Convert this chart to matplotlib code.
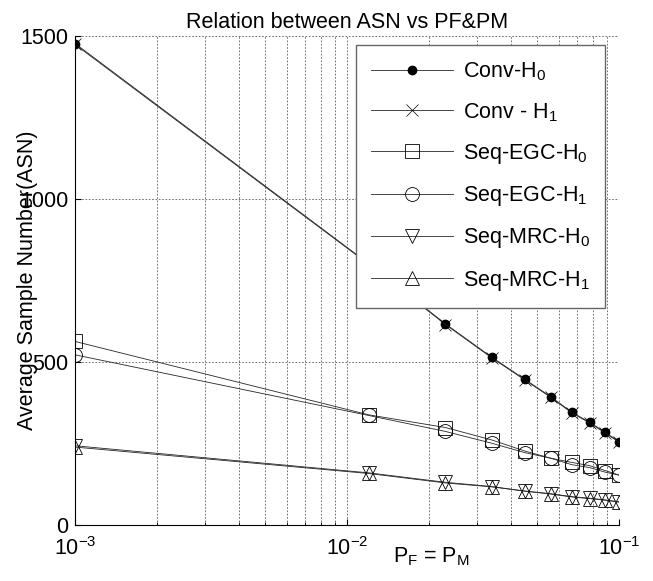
import matplotlib
matplotlib.use('Agg')
import matplotlib.pyplot as plt
from matplotlib.ticker import NullFormatter

plt.rcParams['font.family'] = ['Liberation Sans', 'DejaVu Sans']
plt.rcParams['mathtext.fontset'] = 'custom'
plt.rcParams['mathtext.rm'] = 'Liberation Sans'
plt.rcParams['mathtext.it'] = 'Liberation Sans'
plt.rcParams['mathtext.default'] = 'regular'

# P_F = P_M values
pf = [0.001, 0.012, 0.023, 0.034, 0.045, 0.056, 0.067, 0.078, 0.089, 0.1]

# ASN for each scheme
conv_h0 = [1477, 802, 617, 515, 447, 394, 346, 315, 284, 256]
conv_h1 = [1474, 800, 615, 513, 445, 392, 344, 313, 282, 254]
egc_h0 = [563, 338, 299, 261, 227, 205, 192, 182, 167, 153]
egc_h1 = [522, 336, 287, 251, 222, 205, 185, 176, 162, 153]
mrc_h0 = [243, 160, 131, 118, 104, 96, 87, 82, 77, 71]
mrc_h1 = [239, 158, 129, 117, 104, 95, 86, 81, 76, 70]

labels = ['Conv-H$_0$', 'Conv - H$_1$', 'Seq-EGC-H$_0$', 'Seq-EGC-H$_1$',
          'Seq-MRC-H$_0$', 'Seq-MRC-H$_1$']

fs = 15.5

fig = plt.figure(figsize=(6.53, 5.81), dpi=100)
ax = fig.add_axes([0.115, 0.0964, 0.833, 0.8416])

lw = 0.6
lc = '0.15'
ax.plot(pf, conv_h0, '-o', color=lc, lw=lw, ms=6, mfc='k', mec='k', label=labels[0])
ax.plot(pf, conv_h1, '-x', color=lc, lw=lw, ms=9, mew=0.5, mec='k', label=labels[1])
ax.plot(pf, egc_h0, '-s', color=lc, lw=lw, ms=10, mfc='none', mec='k', mew=0.6, label=labels[2])
ax.plot(pf, egc_h1, '-o', color=lc, lw=lw, ms=10, mfc='none', mec='k', mew=0.6, label=labels[3])
ax.plot(pf, mrc_h0, '-v', color=lc, lw=lw, ms=10, mfc='none', mec='k', mew=0.6, label=labels[4])
ax.plot(pf, mrc_h1, '-^', color=lc, lw=lw, ms=10, mfc='none', mec='k', mew=0.6, label=labels[5])

ax.set_xscale('log')
ax.set_xlim(1e-3, 1e-1)
ax.set_ylim(0, 1500)
ax.set_yticks([0, 500, 1000, 1500])
ax.xaxis.set_minor_formatter(NullFormatter())

ax.grid(True, which='both', axis='x', linestyle=(0, (2, 2)), color='0.35', lw=0.6)
ax.grid(True, which='major', axis='y', linestyle=(0, (2, 2)), color='0.35', lw=0.6)
ax.spines['top'].set_visible(False)
ax.spines['right'].set_visible(False)
ax.spines['left'].set_linewidth(0.8)
ax.spines['bottom'].set_linewidth(0.8)
ax.tick_params(which='both', direction='in', labelsize=fs, top=False, right=False)
ax.tick_params(axis='x', which='major', pad=9, length=4)
ax.tick_params(axis='x', which='minor', length=2)
ax.tick_params(axis='y', pad=5, length=4)

ax.set_title('Relation between ASN vs PF&PM', fontsize=fs, pad=6)
ax.set_xlabel('P$_F$ = P$_M$', fontsize=fs)
ax.xaxis.set_label_coords(0.655, -0.042)
ax.set_ylabel('Average Sample Number(ASN)', fontsize=fs)
ax.yaxis.set_label_coords(-0.068, 0.5)

leg = ax.legend(loc='upper right', bbox_to_anchor=(605 / 653, 1 - 45 / 581),
                bbox_transform=fig.transFigure, borderaxespad=0, fontsize=fs,
                fancybox=False, framealpha=1, edgecolor='0.4', handlelength=3.8,
                handletextpad=0.45, labelspacing=0.85, borderpad=0.7)
leg.get_frame().set_linewidth(1.0)

fig.savefig('out.png', dpi=100)
